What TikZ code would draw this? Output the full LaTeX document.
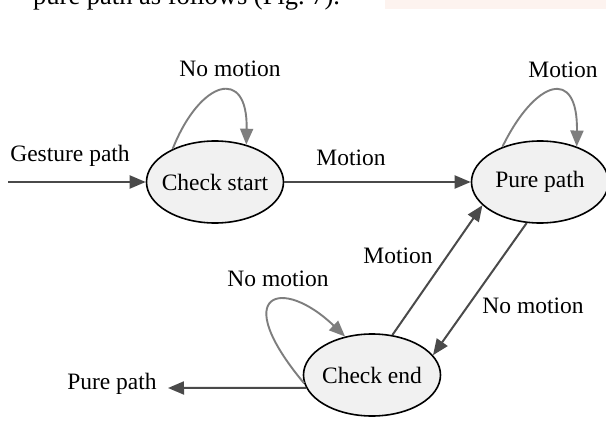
\documentclass[tikz,border=0pt]{standalone}
\usepackage{fontspec}
\setmainfont{Liberation Serif}
\usetikzlibrary{arrows.meta,shapes.geometric}
\definecolor{loopgray}{HTML}{7E7E7E}
\definecolor{arrgray}{HTML}{4A4A4A}
\definecolor{statefill}{HTML}{F1F1F1}
\definecolor{tint}{HTML}{FDF3EF}
\tikzset{
  state/.style={ellipse, draw=black, line width=1.6pt, fill=statefill,
    minimum width=137pt, minimum height=82pt, inner sep=0pt,
    font=\fontsize{23.5}{28}\selectfont},
  lbl/.style={anchor=base, inner sep=0pt, font=\fontsize{23.5}{28}\selectfont},
  arr/.style={draw=arrgray, line width=2pt, -{Triangle[length=16pt,width=13pt]}},
  looparr/.style={draw=loopgray, line width=1.9pt, -{Triangle[length=16pt,width=13pt]}}
}
\begin{document}
\begin{tikzpicture}[x=1pt,y=-1pt]
\useasboundingbox (0,0) rectangle (606,423);
\fill[white] (0,0) rectangle (606,423);
% scanned page fragment at the top
\fill[tint] (385,0) rectangle (606,9);
\begin{scope}
\clip (0,0) rectangle (606,11);
\node[lbl, anchor=base west, font=\fontsize{26.5}{30}\selectfont] (hdr) at (33,5) {pure path as follows (Fig.~7).};
\end{scope}
% states
\node[state] (cs) at (215,182) {\makebox[0pt]{Check start}};
\node[state] (pp) at (540,182) {\makebox[0pt]{Pure path}};
\node[state] (ce) at (372,375) {\makebox[0pt]{Check end}};
% free ends
\coordinate (gin) at (8,182);
\coordinate (pout) at (168,388);
% connectors
\draw[arr] (gin) -- (cs.west);
\draw[arr] (cs.east) -- (pp.west);
\draw[arr] (ce.63) -- (pp.202);
\draw[arr] (pp.252) -- (ce.18);
\draw[arr] (ce.191) -- (pout);
% self loops
\draw[looparr] (cs.142) .. controls (200,80) and (248,66) .. (cs.50);
\draw[looparr] (pp.137) .. controls (535,80) and (578,66) .. (pp.44);
\draw[looparr] (ce.187) .. controls (228,292) and (282,276) .. (ce.125);
% labels
\node[lbl] (l1) at (230,76) {No motion};
\node[lbl] (l2) at (563,77) {Motion};
\node[lbl] (l3) at (70,161) {Gesture path};
\node[lbl] (l4) at (351,165) {Motion};
\node[lbl] (l5) at (398,263) {Motion};
\node[lbl] (l6) at (278,286) {No motion};
\node[lbl] (l7) at (533,313) {No motion};
\node[lbl] (l8) at (112,389) {Pure path};
\end{tikzpicture}
\end{document}
